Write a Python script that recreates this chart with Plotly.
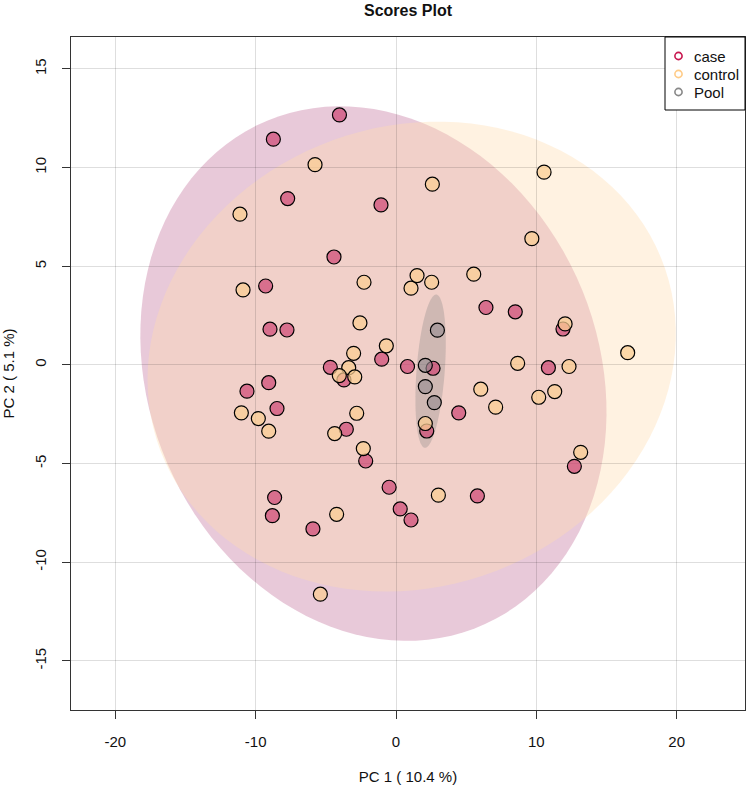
import numpy as np
import plotly.graph_objects as go

# ---------------- data ----------------
case_x = [-4.03, -8.74, -7.72, -1.07, -4.42, -9.29, -8.98, -7.77, -1.02, 0.82,
          -4.68, -3.71, -9.07, -10.62, -8.48, -3.54, -2.16, -0.49, -8.65, 6.41,
          8.50, 11.90, 2.64, 10.86, 4.47, 2.19, 12.71, 5.80, -8.81, -5.92,
          0.30, 1.07]
case_y = [12.67, 11.44, 8.43, 8.11, 5.47, 4.00, 1.81, 1.77, 0.29, -0.08,
          -0.12, -0.76, -0.90, -1.33, -2.21, -3.26, -4.87, -6.20, -6.72, 2.91,
          2.69, 1.82, -0.17, -0.14, -2.43, -3.35, -5.14, -6.64, -7.64, -8.31,
          -7.30, -7.86]

control_x = [-5.77, -11.12, 2.59, 10.55, 9.68, -10.90, -2.28, 1.07, 1.50, 2.54,
             5.54, -2.57, -0.69, -3.02, -3.37, -4.04, -2.94, -11.02, -9.81, -9.07,
             -2.80, -4.37, -2.33, 12.05, 16.51, 8.67, 12.33, 6.04, 7.10, 10.17,
             11.31, 2.09, 13.16, 3.02, -4.23, -5.39]
control_y = [10.15, 7.64, 9.16, 9.77, 6.40, 3.80, 4.19, 3.89, 4.53, 4.19,
             4.60, 2.13, 0.97, 0.59, -0.14, -0.54, -0.61, -2.43, -2.72, -3.36,
             -2.45, -3.48, -4.24, 2.08, 0.62, 0.08, -0.08, -1.23, -2.14, -1.64,
             -1.35, -2.97, -4.43, -6.60, -7.57, -11.62]

pool_x = [2.95, 2.09, 2.09, 2.73]
pool_y = [1.76, -0.02, -1.10, -1.91]

group_names = ["case", "control", "Pool"]
x_ticks = [-20, -10, 0, 10, 20]
x_ticklabels = ["-20", "-10", "0", "10", "20"]
y_ticks = [-15, -10, -5, 0, 5, 10, 15]
y_ticklabels = ["-15", "-10", "-5", "0", "5", "10", "15"]
x_title = "PC 1 ( 10.4 %)"
y_title = "PC 2 ( 5.1 %)"
chart_title = "Scores Plot"

# ---------------- styles ----------------
FONT = "Liberation Sans, Arial, sans-serif"
ellipse_fill = ["rgba(190,105,150,0.36)", "rgba(255,220,176,0.38)", "rgba(128,128,128,0.30)"]
point_fill = ["rgba(205,70,115,0.70)", "rgba(251,205,145,0.72)", "rgba(150,140,145,0.62)"]
legend_col = ["#C8174F", "#FFCC88", "#888888"]

W, H = 749, 788
ML, MR, MT, MB = 71, 4, 37, 78
PW, PH = W - ML - MR, H - MT - MB


def px_to_paper_x(px):
    return (px - ML) / PW


def px_to_paper_y(py):
    return (H - MB - py) / PH


def conf_ellipse_path(xs, ys, level=0.95, n=120):
    """95% confidence ellipse (as in the original PCA score plot)."""
    pts = np.column_stack([xs, ys])
    mu = pts.mean(axis=0)
    cov = np.cov(pts, rowvar=False)
    vals, vecs = np.linalg.eigh(cov)
    t = np.sqrt(-2.0 * np.log(1.0 - level))
    th = np.linspace(0, 2 * np.pi, n)
    circ = np.column_stack([np.cos(th), np.sin(th)])
    ell = circ @ (vecs * np.sqrt(vals)).T * t + mu
    return "M " + " L ".join(f"{a:.4f},{b:.4f}" for a, b in ell) + " Z"


fig = go.Figure()

groups = [(case_x, case_y), (control_x, control_y), (pool_x, pool_y)]
shapes = []
for i, (gx, gy) in enumerate(groups):
    shapes.append(dict(type="path", path=conf_ellipse_path(gx, gy), xref="x", yref="y",
                       fillcolor=ellipse_fill[i], line=dict(width=0), layer="below"))

for i, (gx, gy) in enumerate(groups):
    fig.add_trace(go.Scatter(
        x=gx, y=gy, mode="markers", name=group_names[i], showlegend=False,
        marker=dict(size=14, color=point_fill[i], line=dict(color="black", width=1.2)),
        hoverinfo="x+y+name"))

# ---- legend box (drawn in R style: small open circles, boxed) ----
annotations = []
shapes.append(dict(type="rect", xref="paper", yref="paper",
                   x0=px_to_paper_x(665), x1=1.0, y0=px_to_paper_y(110), y1=1.0,
                   fillcolor="white", line=dict(color="black", width=1), layer="above"))
row_y = [56, 74, 92]
for i, nm in enumerate(group_names):
    cx = px_to_paper_x(678.5)
    cy = px_to_paper_y(row_y[i])
    shapes.append(dict(type="circle", xref="paper", yref="paper",
                       xsizemode="pixel", ysizemode="pixel", xanchor=cx, yanchor=cy,
                       x0=-3.6, x1=3.6, y0=-3.6, y1=3.6,
                       line=dict(color=legend_col[i], width=1.6), layer="above"))
    annotations.append(dict(text=nm, xref="paper", yref="paper", x=px_to_paper_x(692),
                            y=cy, xanchor="left", yanchor="middle", showarrow=False,
                            font=dict(family=FONT, size=15, color="#111")))

fig.update_layout(
    width=W, height=H,
    margin=dict(l=ML, r=MR, t=MT, b=MB),
    paper_bgcolor="white", plot_bgcolor="white",
    font=dict(family=FONT, size=15, color="#111"),
    shapes=shapes, annotations=annotations,
    title=dict(text="<b>" + chart_title + "</b>", x=(ML + PW / 2) / W, xanchor="center",
               y=1 - 10 / H, yanchor="middle", yref="container",
               font=dict(family=FONT, size=16, color="#111")),
    showlegend=False,
)

axis_common = dict(showgrid=True, gridcolor="rgba(0,0,0,0.13)", gridwidth=1,
                   zeroline=False, showline=True, mirror=True, linecolor="#333",
                   linewidth=1, ticks="outside", ticklen=8, tickcolor="#333",
                   tickfont=dict(family=FONT, size=15, color="#111"), automargin=False)

fig.update_xaxes(range=[-23.16, 24.87], tickvals=x_ticks, ticktext=x_ticklabels,
                 ticklabelstandoff=10,
                 title=dict(text=x_title, standoff=22, font=dict(family=FONT, size=15, color="#111")),
                 **axis_common)
fig.update_yaxes(range=[-17.49, 16.62], tickvals=y_ticks, ticktext=y_ticklabels,
                 tickangle=-90, ticklabelstandoff=10,
                 title=dict(text=y_title, standoff=14, font=dict(family=FONT, size=15, color="#111")),
                 **axis_common)

fig.write_html("out.html", config={"displayModeBar": False},
               post_script="document.body.style.margin='0px';document.body.style.padding='0px';")
